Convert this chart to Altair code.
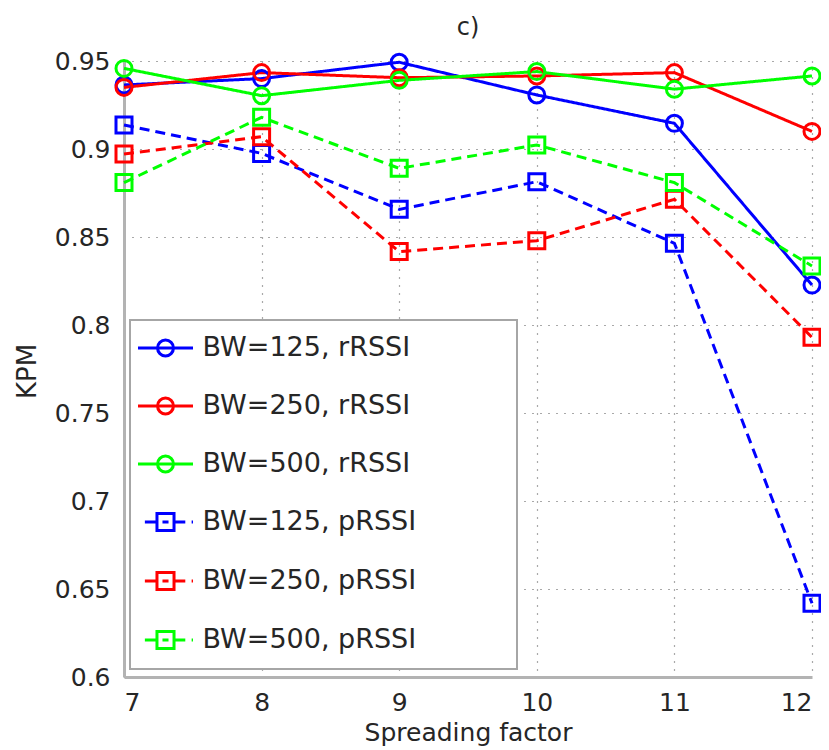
import altair as alt
import pandas as pd

# ---- data ----
panel_title = "c)"
spreading_factor = [7, 8, 9, 10, 11, 12]
series_names = [
    "BW=125, rRSSI", "BW=250, rRSSI", "BW=500, rRSSI",
    "BW=125, pRSSI", "BW=250, pRSSI", "BW=500, pRSSI",
]
bw125_r = [0.9364, 0.9400, 0.9493, 0.9307, 0.9146, 0.8227]
bw250_r = [0.9350, 0.9434, 0.9405, 0.9415, 0.9434, 0.9100]
bw500_r = [0.9458, 0.9303, 0.9390, 0.9440, 0.9340, 0.9415]
bw125_p = [0.9136, 0.8975, 0.8657, 0.8814, 0.8464, 0.6419]
bw250_p = [0.8972, 0.9070, 0.8417, 0.8479, 0.8714, 0.7930]
bw500_p = [0.8809, 0.9180, 0.8890, 0.9023, 0.8809, 0.8335]
y_ticks = [0.6, 0.65, 0.7, 0.75, 0.8, 0.85, 0.9, 0.95]

all_values = [bw125_r, bw250_r, bw500_r, bw125_p, bw250_p, bw500_p]
rows = []
for name, vals in zip(series_names, all_values):
    kind = "r" if "rRSSI" in name else "p"
    for sf, v in zip(spreading_factor, vals):
        rows.append({"sf": sf, "kpm": v, "series": name, "kind": kind})
df = pd.DataFrame(rows)

colors = ["#0000FF", "#FF0000", "#00FF00", "#0000FF", "#FF0000", "#00FF00"]
dashes = [[1, 0], [1, 0], [1, 0], [10, 6], [10, 6], [10, 6]]

circ = "M -0.29 0 A 0.29 0.29 0 1 0 0.29 0 A 0.29 0.29 0 1 0 -0.29 0"
sq = "M -0.31 -0.31 L 0.31 -0.31 L 0.31 0.31 L -0.31 0.31 Z"
path_r = "M -1 0 L 1 0 " + circ
path_p = "M -0.75 0 L -0.31 0 M -0.11 0 L 0.11 0 M 0.31 0 L 0.72 0 M 0.95 0 L 1 0 " + sq
legend_shapes = [path_r, path_r, path_r, path_p, path_p, path_p]

FONT = "DejaVu Sans"
TXT = "#262626"

x_enc = alt.X(
    "sf:Q",
    scale=alt.Scale(domain=[7, 12], nice=False, zero=False),
    axis=alt.Axis(values=spreading_factor, format="d", title="Spreading factor",
                  labelPadding=13, titleY=63, titleBaseline="alphabetic",
                  titleFontSize=25),
)
y_enc = alt.Y(
    "kpm:Q",
    scale=alt.Scale(domain=[0.6, 0.95], nice=False, zero=False),
    axis=alt.Axis(values=y_ticks, format=".2~f", title="KPM", labelPadding=14,
                  titleX=-97, titleY=310, titleBaseline="middle", titleAlign="center",
                  titleFontSize=26),
)
color_scale = alt.Scale(domain=series_names, range=colors)
color_enc = alt.Color("series:N", scale=color_scale, legend=None)

base = alt.Chart(df)

lines = base.mark_line(strokeWidth=3).encode(
    x=x_enc, y=y_enc, color=color_enc,
    strokeDash=alt.StrokeDash("series:N",
                              scale=alt.Scale(domain=series_names, range=dashes),
                              legend=None),
)

circles = base.transform_filter(alt.datum.kind == "r").mark_point(
    shape="circle", filled=False, size=256, strokeWidth=3, opacity=1
).encode(x=x_enc, y=y_enc, color=color_enc)

squares = base.transform_filter(alt.datum.kind == "p").mark_point(
    shape="square", filled=False, size=256, strokeWidth=3, opacity=1
).encode(x=x_enc, y=y_enc, color=color_enc)

legend_box = alt.Chart(pd.DataFrame({"a": [0]})).mark_rect(
    fill="white", stroke="#a6a6a6", strokeWidth=2
).encode(x=alt.value(6), x2=alt.value(393), y=alt.value(259), y2=alt.value(608))

title_text = alt.Chart(pd.DataFrame({"t": [panel_title]})).mark_text(
    font=FONT, fontSize=24, color=TXT, align="center", baseline="alphabetic"
).encode(text="t:N", x=alt.value(344), y=alt.value(-26))

leg = alt.Legend(
    title=None, orient="none", legendX=12.5, legendY=258, padding=0,
    rowPadding=15, labelOffset=8, labelFont=FONT, labelFontSize=27,
    labelColor=TXT, labelLimit=500, symbolSize=3025, symbolStrokeWidth=3,
    symbolOpacity=1, symbolFillColor="transparent",
)

legend_layer = alt.Chart(pd.DataFrame({"series": series_names})).mark_point(
    filled=False, opacity=0, size=3025, strokeWidth=3
).encode(
    color=alt.Color("series:N", scale=color_scale, legend=leg),
    shape=alt.Shape("series:N",
                    scale=alt.Scale(domain=series_names, range=legend_shapes),
                    legend=leg),
)

chart = alt.layer(legend_box, lines, circles, squares, title_text, legend_layer).resolve_scale(
    color="independent", shape="independent"
).properties(
    width=688, height=616,
    padding={"left": 116, "top": 53, "right": 9, "bottom": 72},
    autosize=alt.AutoSizeParams(type="none"),
).configure_view(stroke=None).configure_axis(
    labelFont=FONT, labelFontSize=25, labelColor=TXT,
    titleFont=FONT, titleFontWeight="normal", titleColor=TXT,
    domainColor="#b3b3b3", domainWidth=3,
    grid=True, gridColor="#555555", gridDash=[1, 7], gridWidth=1.2,
    ticks=False, tickSize=0,
)

chart.save("out.html", embed_options={"renderer": "svg", "actions": False})
